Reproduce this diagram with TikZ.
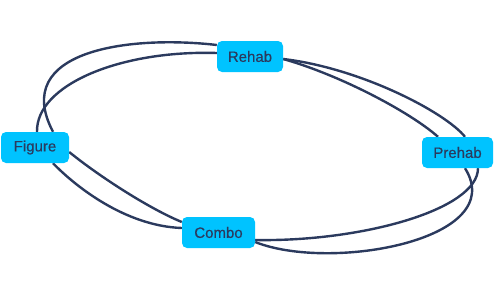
\documentclass[tikz,border=0pt]{standalone}
\usepackage{fontspec}
\setmainfont{Liberation Sans}
\newfontfamily\labelfont{Liberation Sans}[FakeBold=0.35]
\usetikzlibrary{backgrounds}
\definecolor{boxfill}{HTML}{00C3FF}
\definecolor{navy}{HTML}{2B3A5E}
\tikzset{
  box/.style={draw=none, fill=boxfill, rounded corners=5pt, text=navy,
    font=\labelfont\fontsize{15}{18}\selectfont, inner sep=0pt, minimum height=31pt},
  link/.style={draw=navy, line width=2.4pt}
}
\begin{document}
\begin{tikzpicture}[x=1pt,y=-1pt]
\useasboundingbox (0,0) rectangle (498,297);
\node[box, minimum width=66pt] (rehab) at (250,56.5) {Rehab};
\node[box, minimum width=68pt] (figure) at (35,147.5) {Figure};
\node[box, minimum width=73pt] (combo) at (218.5,232.5) {Combo};
\node[box, minimum width=71pt] (prehab) at (457.5,152.5) {Prehab};
\begin{scope}[on background layer]
\draw[link] ([yshift=11.5pt]rehab.west) .. controls (130,35) and (10,50) .. ([xshift=18pt]figure.north);
\draw[link] ([yshift=3.5pt]rehab.west) .. controls (120,50) and (36,85) .. ([xshift=2pt]figure.north);
\draw[link] ([yshift=-4.5pt]figure.east) .. controls (100,177) and (150,209) .. ([yshift=10.5pt]combo.west);
\draw[link] ([xshift=18pt]figure.south) .. controls (75,186) and (125,226) .. ([yshift=4.5pt]combo.west);
\draw[link] ([yshift=-7.5pt]combo.east) .. controls (360,242) and (478,210) .. ([xshift=20.5pt]prehab.south);
\draw[link] ([yshift=-9.5pt]combo.east) .. controls (330,272) and (510,240) .. ([xshift=7.5pt]prehab.south);
\draw[link] ([yshift=-2.5pt]rehab.east) .. controls (340,75) and (410,112) .. ([xshift=-19.5pt]prehab.north);
\draw[link] ([yshift=-2.5pt]rehab.east) .. controls (360,68) and (445,112) .. ([xshift=7.5pt]prehab.north);
\end{scope}
\end{tikzpicture}
\end{document}
